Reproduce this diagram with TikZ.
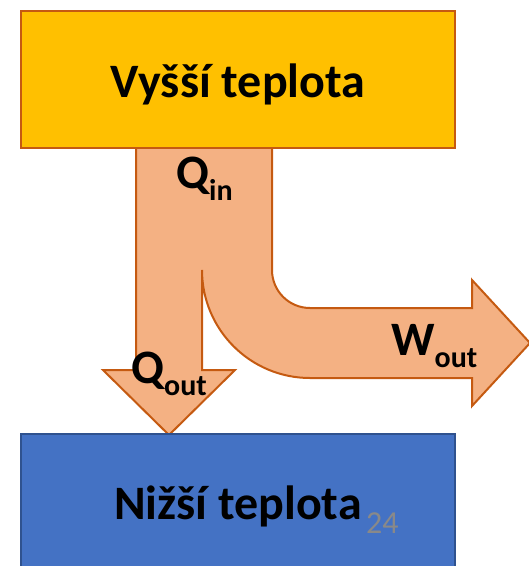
\documentclass[tikz,border=0pt]{standalone}
\usepackage{fontspec}
\setmainfont{Carlito}
\definecolor{hotfill}{HTML}{FFC000}
\definecolor{rust}{HTML}{C55A11}
\definecolor{flowfill}{HTML}{F4B183}
\definecolor{coldfill}{HTML}{4472C4}
\definecolor{coldline}{HTML}{2F528F}
\definecolor{pagenum}{HTML}{898989}
\newcommand\bigfont{\fontsize{48}{54}\selectfont\bfseries}
\newcommand\subfont{\fontsize{30}{33}\selectfont\bfseries}
\newcommand\flowsub[1]{\raisebox{-12pt}{\subfont #1}}
\tikzset{
  reservoir/.style={draw, line width=2pt, minimum width=434pt, inner sep=0pt},
  caption/.style={font=\bigfont, inner sep=0pt, anchor=base},
  flowlabel/.style={font=\bigfont, inner sep=0pt, anchor=base west},
  flow/.style={fill=flowfill, draw=rust, line width=2pt, line join=miter},
}
\begin{document}
\begin{tikzpicture}[x=1pt, y=-1pt]
  \useasboundingbox (0,0) rectangle (529,566);
  \clip (0,0) rectangle (529,566);

  % split heat-flow arrow: Q_in enters from the top, splits into Q_out (down) and W_out (right)
  \path[flow]
    (136,140) -- (136,370) -- (103,370) -- (169,435) -- (235,370) -- (202,370) -- (202,270)
    .. controls (202,329.6) and (250.4,378) .. (310,378)
    -- (472,378) -- (472,406) -- (530,343) -- (472,280) -- (472,308) -- (310,308)
    .. controls (289,308) and (272,291) .. (272,270)
    -- (272,140) -- cycle;

  % hot reservoir
  \node[reservoir, fill=hotfill, draw=rust, minimum height=137pt] (hot) at (238,79.5) {};
  \node[caption] (hotlabel) at (238,97) {Vyšší teplota};

  % cold reservoir
  \node[reservoir, fill=coldfill, draw=coldline, line width=1.5pt, minimum height=166pt] (cold) at (238,517) {};
  \node[caption] (coldlabel) at (238,519) {Nižší teplota};
  \node[font=\fontsize{32}{36}\selectfont, text=pagenum, inner sep=0pt, anchor=base west] (slidenum) at (366,533) {24};

  % flow labels
  \node[flowlabel] (qin) at (176,188) {Q\flowsub{in}};
  \node[flowlabel] (qout) at (131,383) {Q\flowsub{out}};
  \node[flowlabel] (wout) at (391,355) {W\flowsub{out}};
\end{tikzpicture}
\end{document}
